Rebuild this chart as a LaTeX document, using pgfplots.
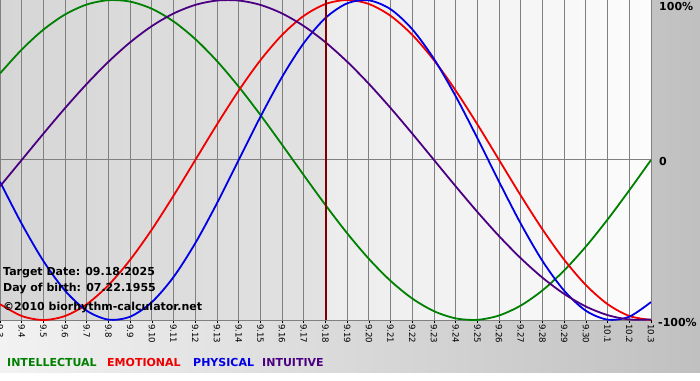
\documentclass[border=0pt]{standalone}
\usepackage{pgfplots}
\pgfplotsset{compat=1.18}
\usepackage{pgfplotstable}
\usepackage{fontspec}
\setmainfont{DejaVu Sans}
\definecolor{cgreen}{RGB}{0,128,0}
\definecolor{cred}{RGB}{240,0,0}
\definecolor{cblue}{RGB}{0,0,230}
\definecolor{cpurple}{RGB}{75,0,130}
\definecolor{ctarget}{RGB}{128,0,0}
\definecolor{cgrid}{RGB}{128,128,128}
\definecolor{bgL}{RGB}{242,242,242}
\definecolor{bgR}{RGB}{192,192,192}
\definecolor{plA}{RGB}{214,214,214}
\definecolor{plB}{RGB}{226,226,226}
\definecolor{plC}{RGB}{236,236,236}
\definecolor{plD}{RGB}{252,252,252}

\pgfplotstableread{
d P E I N
0 -0.1362 -0.9010 0.5406 -0.1646
1 -0.3984 -0.9749 0.6901 0
2 -0.6313 -1 0.8146 0.1646
3 -0.8170 -0.9749 0.9096 0.3247
4 -0.9423 -0.9010 0.9718 0.4759
5 -0.9977 -0.7818 0.9989 0.6142
6 -0.9791 -0.6235 0.9898 0.7357
7 -0.8879 -0.4339 0.9450 0.8372
8 -0.7308 -0.2225 0.8660 0.9158
9 -0.5196 0 0.7557 0.9694
10 -0.2698 0.2225 0.6182 0.9966
11 0 0.4339 0.4582 0.9966
12 0.2698 0.6235 0.2817 0.9694
13 0.5196 0.7818 0.0951 0.9158
14 0.7308 0.9010 -0.0951 0.8372
15 0.8879 0.9749 -0.2817 0.7357
16 0.9791 1 -0.4582 0.6142
17 0.9977 0.9749 -0.6182 0.4759
18 0.9423 0.9010 -0.7557 0.3247
19 0.8170 0.7818 -0.8660 0.1646
20 0.6313 0.6235 -0.9450 0
21 0.3984 0.4339 -0.9898 -0.1646
22 0.1362 0.2225 -0.9989 -0.3247
23 -0.1362 0 -0.9718 -0.4759
24 -0.3984 -0.2225 -0.9096 -0.6142
25 -0.6313 -0.4339 -0.8146 -0.7357
26 -0.8170 -0.6235 -0.6901 -0.8372
27 -0.9423 -0.7818 -0.5406 -0.9158
28 -0.9977 -0.9010 -0.3717 -0.9694
29 -0.9791 -0.9749 -0.1893 -0.9966
30 -0.8879 -1 0 -0.9966
}\bio

\begin{document}
\begin{tikzpicture}
\path[use as bounding box] (0pt,0pt) rectangle (700pt,380pt);
\clip (0pt,0pt) rectangle (700pt,380pt);
\fill[white] (0pt,0pt) rectangle (700pt,380pt);
\fill[left color=bgL, right color=bgR] (0pt,8pt) rectangle (700pt,380pt);
\fill[left color=plA, right color=plB] (0pt,60pt) rectangle (325.5pt,380pt);
\fill[left color=plC, right color=plD] (325.5pt,60pt) rectangle (651pt,380pt);
\begin{axis}[
  at={(0pt,60pt)}, anchor=south west,
  scale only axis, width=651pt, height=320pt,
  xmin=0, xmax=30, ymin=-1, ymax=1,
  axis x line=bottom, axis y line=none,
  axis line style={cgrid, line width=1pt, -},
  xtick={0,...,30},
  xticklabels={\mbox{9.3},\mbox{9.4},\mbox{9.5},\mbox{9.6},\mbox{9.7},\mbox{9.8},\mbox{9.9},\mbox{9.10},\mbox{9.11},\mbox{9.12},\mbox{9.13},\mbox{9.14},\mbox{9.15},\mbox{9.16},\mbox{9.17},\mbox{9.18},\mbox{9.19},\mbox{9.20},\mbox{9.21},\mbox{9.22},\mbox{9.23},\mbox{9.24},\mbox{9.25},\mbox{9.26},\mbox{9.27},\mbox{9.28},\mbox{9.29},\mbox{9.30},\mbox{10.1},\mbox{10.2},\mbox{10.3}},
  xticklabel style={rotate=-90, anchor=west, font=\fontsize{8.6}{8.6}\selectfont, inner sep=1pt},
  tick align=outside, major tick length=3pt,
  tick style={black, line width=0.8pt},
  ytick=\empty,
  xmajorgrids, grid style={cgrid, line width=1pt},
]
\addplot[cgrid, line width=1pt] coordinates {(0,0) (30,0)};
\addplot[cgreen, line width=1.8pt, smooth] table[x=d, y=I] {\bio};
\addplot[cred, line width=1.8pt, smooth] table[x=d, y=E] {\bio};
\addplot[cblue, line width=1.8pt, smooth] table[x=d, y=P] {\bio};
\addplot[cpurple, line width=1.8pt, smooth] table[x=d, y=N] {\bio};
\addplot[ctarget, line width=2pt] coordinates {(15,-1) (15,1)};
\end{axis}
\begin{scope}[every node/.style={inner sep=0pt, font=\fontsize{11}{11}\selectfont\bfseries}]
\node[anchor=base west] at (3pt,104.3pt) {Target Date: 09.18.2025};
\node[anchor=base west] at (3pt,89pt) {Day of birth: 07.22.1955};
\node[anchor=base west] at (3pt,70pt) {©2010 biorhythm-calculator.net};
\node[anchor=base west, text=cgreen] at (7pt,14pt) {INTELLECTUAL};
\node[anchor=base west, text=cred] at (107pt,14pt) {EMOTIONAL};
\node[anchor=base west, text=cblue] at (193pt,14pt) {PHYSICAL};
\node[anchor=base west, text=cpurple] at (262pt,14pt) {INTUITIVE};
\node[anchor=west] at (659pt,373pt) {100\%};
\node[anchor=west] at (659pt,219pt) {0};
\node[anchor=west] at (658pt,58pt) {-100\%};
\end{scope}
\end{tikzpicture}
\end{document}
